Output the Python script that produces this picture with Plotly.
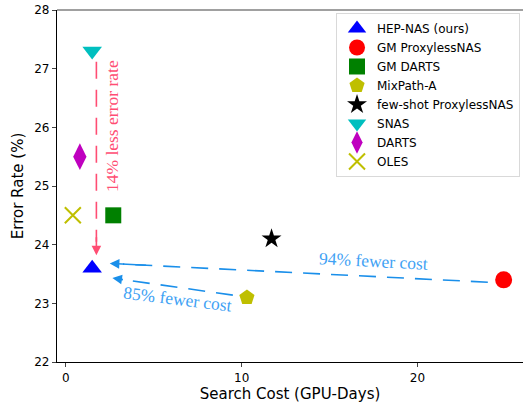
import plotly.graph_objects as go

names = ["HEP-NAS (ours)", "GM ProxylessNAS", "GM DARTS", "MixPath-A",
         "few-shot ProxylessNAS", "SNAS", "DARTS", "OLES"]
cost = [1.5, 24.9, 2.7, 10.3, 11.7, 1.5, 0.8, 0.4]
error = [23.6, 23.4, 24.5, 23.1, 24.1, 27.3, 25.5, 24.5]
symbols = ["triangle-up", "circle", "square", "pentagon", "star",
           "triangle-down", "diamond-tall", "x-thin"]
colors = ["#0000ff", "#ff0000", "#008000", "#bfbf00", "#000000",
          "#00bfbf", "#bf00bf", "#bfbf00"]
sizes = [17, 17, 16, 16, 15, 17, 19, 16]

xticks = [0, 10, 20]
yticks = [22, 23, 24, 25, 26, 27, 28]

# dashed arrow guides: (x0, y0) tail -> (x1, y1) head
arrows = [
    dict(x0=1.74, y0=27.12, x1=1.74, y1=23.82, color="#ff4d73"),
    dict(x0=24.0, y0=23.36, x1=2.5, y1=23.68, color="#1a8fea"),
    dict(x0=9.5, y0=23.14, x1=2.65, y1=23.43, color="#1a8fea"),
]
labels = [
    dict(text="14% less error rate", x=2.62, y=26.02, angle=-90, color="#ff4d73"),
    dict(text="94% fewer cost", x=17.5, y=23.72, angle=3, color="#3fa2f4"),
    dict(text="85% fewer cost", x=6.35, y=23.07, angle=7, color="#3fa2f4"),
]

fig = go.Figure()
for n, xv, yv, s, c, sz in zip(names, cost, error, symbols, colors, sizes):
    line = dict(width=2, color=c) if s == "x-thin" else dict(width=0)
    fig.add_trace(go.Scatter(x=[xv], y=[yv], mode="markers", name=n, cliponaxis=False,
                             marker=dict(symbol=s, color=c, size=sz, line=line)))

for a in arrows:
    dx = a["x1"] - a["x0"]
    dy = a["y1"] - a["y0"]
    frac = 0.93 if abs(dy) > 1 else 0.965
    fig.add_trace(go.Scatter(x=[a["x0"], a["x0"] + dx * frac],
                             y=[a["y0"], a["y0"] + dy * frac],
                             mode="lines", showlegend=False, hoverinfo="skip",
                             line=dict(color=a["color"], width=1.6, dash="17px,11px")))
    fig.add_annotation(x=a["x1"], y=a["y1"], ax=a["x0"] + dx * 0.9, ay=a["y0"] + dy * 0.9,
                       xref="x", yref="y", axref="x", ayref="y", text="",
                       showarrow=True, arrowhead=2, arrowsize=1.2, arrowwidth=1.6,
                       arrowcolor=a["color"], standoff=0, startstandoff=0)

for l in labels:
    fig.add_annotation(x=l["x"], y=l["y"], xref="x", yref="y", text=l["text"],
                       showarrow=False, textangle=l["angle"],
                       font=dict(family="Liberation Serif, DejaVu Serif, serif",
                                 size=17.5, color=l["color"]))

fig.add_shape(type="line", xref="paper", yref="paper", x0=0, x1=1, y0=1, y1=1,
              line=dict(color="#808080", width=1.5))

fig.update_layout(
    width=523, height=403,
    margin=dict(l=57, r=0, t=10, b=41, autoexpand=False),
    paper_bgcolor="white", plot_bgcolor="white",
    font=dict(family="DejaVu Sans", size=12, color="black"),
    showlegend=True,
    legend=dict(x=0.9936, y=0.9915, xanchor="right", yanchor="top",
                bgcolor="rgba(255,255,255,0.8)", bordercolor="#d9d9d9", borderwidth=1,
                font=dict(size=12), itemsizing="trace", tracegroupgap=0),
    xaxis=dict(range=[-0.5, 26], tickvals=xticks, ticks="outside", ticklen=4,
               showgrid=False, zeroline=False, showline=True, linecolor="black",
               linewidth=1.2, tickfont=dict(size=12),
               title=dict(text="Search Cost (GPU-Days)", font=dict(size=15), standoff=4)),
    yaxis=dict(range=[22, 28], tickvals=yticks, ticks="outside", ticklen=4,
               showgrid=False, zeroline=False, showline=True, linecolor="black",
               linewidth=1.2, tickfont=dict(size=12),
               title=dict(text="Error Rate (%)", font=dict(size=15), standoff=6)),
)

fig.write_html("out.html", config={"displayModeBar": False},
               post_script="document.body.style.margin='0';document.body.style.overflow='hidden';")
